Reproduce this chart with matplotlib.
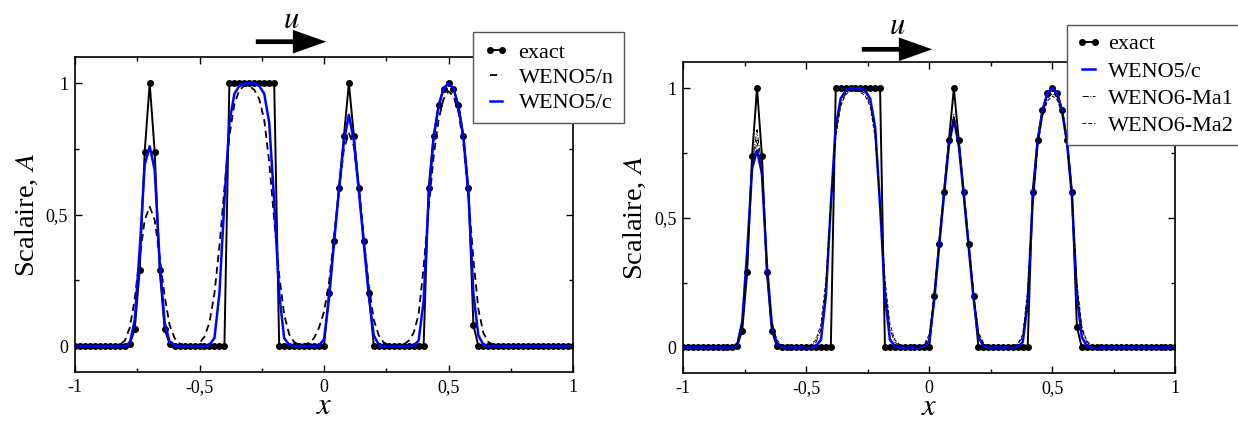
import numpy as np
import matplotlib
matplotlib.use('Agg')
import matplotlib.pyplot as plt
from matplotlib.ticker import MultipleLocator
from matplotlib.patches import FancyArrowPatch

plt.rcParams['font.family'] = ['Liberation Serif', 'DejaVu Serif']
plt.rcParams['mathtext.fontset'] = 'stix'

# grid x = -1 .. 1, step 0.02 (101 points)
x = np.linspace(-1.0, 1.0, 101)

exact = [0, 0, 0, 0, 0, 0, 0, 0, 0, 0,
         0, 0.007, 0.065, 0.29, 0.74, 1.0, 0.74, 0.29, 0.065, 0.007,
         0, 0, 0, 0, 0, 0, 0, 0, 0, 0,
         0, 1, 1, 1, 1, 1, 1, 1, 1, 1,
         1, 0, 0, 0, 0, 0, 0, 0, 0, 0,
         0, 0.2, 0.4, 0.6, 0.8, 1.0, 0.8, 0.6, 0.4, 0.2,
         0, 0, 0, 0, 0, 0, 0, 0, 0, 0,
         0, 0.6, 0.8, 0.917, 0.98, 1.0, 0.98, 0.917, 0.8, 0.6,
         0.08, 0, 0, 0, 0, 0, 0, 0, 0, 0,
         0, 0, 0, 0, 0, 0, 0, 0, 0, 0,
         0]

weno5_c = [0, 0, 0, 0, 0, 0, 0, 0, 0, 0,
           0, 0.01, 0.10, 0.37, 0.69, 0.76, 0.67, 0.32, 0.09, 0.015,
           0.002, 0, 0, 0, 0, 0, 0, 0.005, 0.03, 0.2,
           0.55, 0.85, 0.96, 0.99, 1.0, 1.0, 1.0, 0.99, 0.96, 0.85,
           0.55, 0.2, 0.03, 0.005, 0, 0, 0, 0, 0, 0.003,
           0.025, 0.18, 0.39, 0.59, 0.78, 0.88, 0.78, 0.59, 0.39, 0.19,
           0.04, 0.005, 0, 0, 0, 0, 0, 0, 0.002, 0.02,
           0.17, 0.56, 0.79, 0.91, 0.98, 1.0, 0.98, 0.91, 0.79, 0.58,
           0.2, 0.04, 0.005, 0, 0, 0, 0, 0, 0, 0,
           0, 0, 0, 0, 0, 0, 0, 0, 0, 0,
           0]

weno5_n = [0, 0, 0, 0, 0, 0, 0, 0, 0.002, 0.006,
           0.02, 0.07, 0.18, 0.34, 0.48, 0.53, 0.48, 0.34, 0.19, 0.08,
           0.03, 0.01, 0.003, 0.001, 0.003, 0.012, 0.035, 0.09, 0.2, 0.38,
           0.6, 0.8, 0.92, 0.975, 0.99, 0.99, 0.975, 0.94, 0.86, 0.7,
           0.48, 0.27, 0.12, 0.045, 0.015, 0.005, 0.004, 0.012, 0.03, 0.07,
           0.13, 0.24, 0.41, 0.59, 0.75, 0.81, 0.76, 0.6, 0.41, 0.23,
           0.1, 0.04, 0.013, 0.004, 0.001, 0.002, 0.006, 0.02, 0.05, 0.12,
           0.3, 0.52, 0.72, 0.86, 0.94, 0.97, 0.95, 0.89, 0.77, 0.57,
           0.33, 0.14, 0.05, 0.015, 0.004, 0, 0, 0, 0, 0,
           0, 0, 0, 0, 0, 0, 0, 0, 0, 0,
           0]

weno6_ma1 = [0, 0, 0, 0, 0, 0, 0, 0, 0, 0,
             0, 0.015, 0.09, 0.34, 0.71, 0.84, 0.69, 0.32, 0.09, 0.02,
             0.005, 0, 0, 0, 0, 0.002, 0.006, 0.02, 0.07, 0.23,
             0.55, 0.83, 0.94, 0.98, 0.99, 0.995, 0.99, 0.98, 0.94, 0.83,
             0.55, 0.23, 0.07, 0.02, 0.006, 0.002, 0, 0, 0.002, 0.008,
             0.04, 0.19, 0.39, 0.59, 0.78, 0.90, 0.79, 0.59, 0.39, 0.2,
             0.05, 0.012, 0.004, 0, 0, 0, 0, 0.003, 0.012, 0.04,
             0.2, 0.55, 0.78, 0.9, 0.96, 0.98, 0.965, 0.91, 0.79, 0.58,
             0.23, 0.07, 0.02, 0.006, 0.002, 0, 0, 0, 0, 0,
             0, 0, 0, 0, 0, 0, 0, 0, 0, 0,
             0]

weno6_ma2 = [0, 0, 0, 0, 0, 0, 0, 0, 0, 0,
             0, 0.02, 0.1, 0.35, 0.68, 0.80, 0.66, 0.33, 0.1, 0.03,
             0.008, 0.002, 0, 0, 0, 0.003, 0.01, 0.03, 0.09, 0.26,
             0.55, 0.81, 0.93, 0.975, 0.99, 0.99, 0.985, 0.97, 0.93, 0.81,
             0.55, 0.26, 0.09, 0.03, 0.01, 0.003, 0, 0, 0.004, 0.012,
             0.05, 0.2, 0.39, 0.59, 0.77, 0.88, 0.77, 0.59, 0.39, 0.21,
             0.06, 0.018, 0.005, 0, 0, 0, 0, 0.004, 0.015, 0.05,
             0.22, 0.54, 0.77, 0.89, 0.95, 0.97, 0.955, 0.9, 0.78, 0.58,
             0.25, 0.08, 0.025, 0.008, 0.002, 0, 0, 0, 0, 0,
             0, 0, 0, 0, 0, 0, 0, 0, 0, 0,
             0]

xticks = [-1, -0.5, 0, 0.5, 1]
xtick_labels = ['-1', '-0,5', '0', '0,5', '1']
yticks = [0, 0.5, 1]
ytick_labels = ['0', '0,5', '1']

W, H = 1238, 421
fig = plt.figure(figsize=(W / 100, H / 100), dpi=100)

ax1 = fig.add_axes([75 / W, 1 - 372.3 / H, 498 / W, 315.3 / H])
ax2 = fig.add_axes([683.2 / W, 1 - 373.3 / H, 492.1 / W, 311 / H])


def style(ax):
    ax.set_xlim(-1, 1)
    ax.set_ylim(-0.1, 1.1)
    ax.set_xticks(xticks)
    ax.set_xticklabels(xtick_labels)
    ax.set_yticks(yticks)
    ax.set_yticklabels(ytick_labels)
    ax.xaxis.set_minor_locator(MultipleLocator(0.25))
    ax.yaxis.set_minor_locator(MultipleLocator(0.25))
    ax.tick_params(which='both', direction='in', top=True, right=True,
                   labelsize=13, width=1.0, pad=5)
    ax.tick_params(which='major', length=5)
    ax.tick_params(which='minor', length=3)
    for s in ax.spines.values():
        s.set_linewidth(1.2)
    ax.set_xlabel('$x$', fontsize=22, labelpad=-3)
    ax.set_ylabel('Scalaire, $A$', fontsize=20.5, labelpad=4)


# left panel
ax1.plot(x, exact, '-o', color='black', lw=1.4, markersize=4, label='exact')
ax1.plot(x, weno5_n, '--', color='black', lw=1.3, dashes=(4, 2.5), label='WENO5/n')
ax1.plot(x, weno5_c, '-', color='#0000ff', lw=1.8, label='WENO5/c')
style(ax1)

# right panel
ax2.plot(x, exact, '-o', color='black', lw=1.4, markersize=4, label='exact')
ax2.plot(x, weno6_ma1, '-.', color='black', lw=0.7, label='WENO6-Ma1', zorder=3)
ax2.plot(x, weno6_ma2, '--', color='black', lw=0.7, dashes=(4, 2), label='WENO6-Ma2', zorder=3)
ax2.plot(x, weno5_c, '-', color='#0000ff', lw=1.8, label='WENO5/c', zorder=2.5)
style(ax2)

leg_kw = dict(loc='upper left', fontsize=16, numpoints=2, fancybox=False,
              framealpha=1, edgecolor='#555555', borderaxespad=0)

h, l = ax1.get_legend_handles_labels()
leg1 = fig.legend(h, l, bbox_to_anchor=(473 / W, 1 - 32 / H), labelspacing=0.22,
                  handlelength=1.15, handletextpad=0.45, borderpad=0.45, **leg_kw)
leg1.get_frame().set_linewidth(1.0)

h2, l2 = ax2.get_legend_handles_labels()
order = [0, 3, 1, 2]
leg2 = fig.legend([h2[i] for i in order], [l2[i] for i in order],
                  bbox_to_anchor=(1066.6 / W, 1 - 25 / H), labelspacing=0.3,
                  handlelength=1.2, handletextpad=0.25, borderpad=0.4, **leg_kw)
leg2.get_frame().set_linewidth(1.0)

# flow direction arrows with label u
arrows = [(253, 329, 41.7, 291, 28), (859, 935, 49.3, 897, 34)]
for (x0, x1, y0, ux, uy) in arrows:
    fig.add_artist(FancyArrowPatch(
        (x0 / W, 1 - y0 / H), (x1 / W, 1 - y0 / H), transform=fig.transFigure,
        arrowstyle='simple,head_length=1.2,head_width=0.85,tail_width=0.17',
        mutation_scale=20, lw=0, color='black'))
    fig.text(ux / W, 1 - uy / H, '$u$', fontsize=22, ha='center', va='baseline')

fig.savefig('out.png', dpi=100)
